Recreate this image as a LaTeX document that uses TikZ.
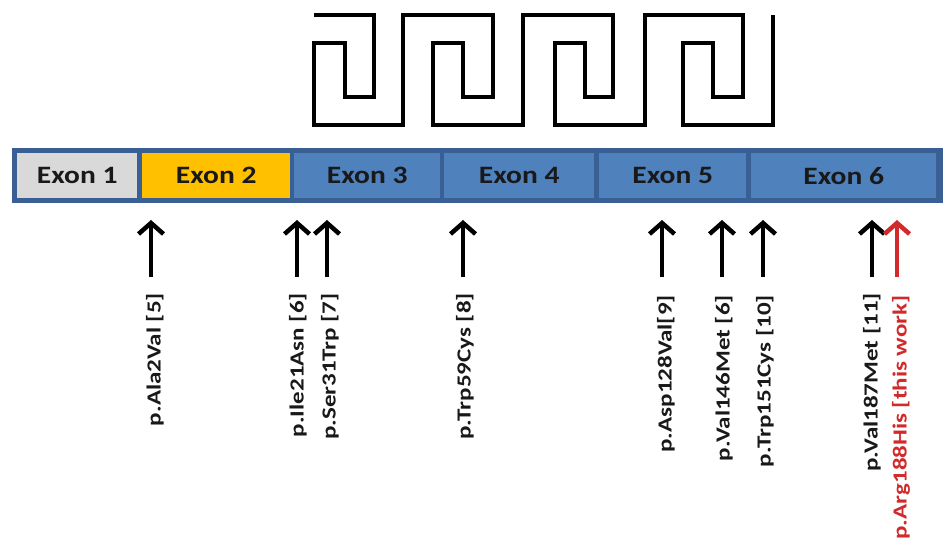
\documentclass[tikz,border=0pt]{standalone}
\usepackage{fontspec}
\setmainfont{Carlito}
\usetikzlibrary{arrows.meta}
\definecolor{exonblue}{HTML}{4F81BD}
\definecolor{bardark}{HTML}{3A5F94}
\definecolor{exongray}{HTML}{D9D9D9}
\definecolor{exonyellow}{HTML}{FFC000}
\definecolor{mutred}{HTML}{D22A2A}
\newcommand{\exonlab}[1]{\scalebox{1.18}[1]{#1}}
\newcommand{\mutlab}[1]{\scalebox{1.25}[1]{#1}}
\begin{document}
\begin{tikzpicture}[x=1pt,y=-1pt]
            \tikzset{exon/.style={rectangle,inner sep=0pt,anchor=north west,
                font=\fontsize{25}{25}\selectfont\bfseries,text=black!90}}
            \tikzset{mutlabel/.style={rotate=90,anchor=east,inner sep=0pt,
                font=\fontsize{20}{20}\selectfont\bfseries,text=black!90}}
            \tikzset{mut/.style={line width=4.5pt,-{Straight Barb[length=11pt,width=25pt]}}}
            \clip (0,0) rectangle (943,540);
            \fill[white] (0,0) rectangle (943,540);
            % greek key
            \draw[line width=4pt,line join=miter] (314,15) -- (374,15) -- (374,97) -- (345,97) -- (345,43)
                -- (314,43) -- (314,125) -- (403,125) -- (403,15) -- (493,15) -- (493,97) -- (463,97)
                -- (463,43) -- (433,43) -- (433,125) -- (523,125) -- (523,15) -- (613,15) -- (613,97)
                -- (585,97) -- (585,43) -- (555,43) -- (555,125) -- (645,125) -- (645,15) -- (743,15)
                -- (743,97) -- (713,97) -- (713,43) -- (683,43) -- (683,125) -- (773,125) -- (773,15);
            % exon bar
            \fill[bardark] (12,148) rectangle (960,203);
            \node[exon,fill=exongray,minimum width=120pt,minimum height=45pt] (e1) at (17,153) {\exonlab{Exon 1}};
            \node[exon,fill=exonyellow,minimum width=148pt,minimum height=45pt] (e2) at (142,153) {\exonlab{Exon 2}};
            \node[exon,fill=exonblue,minimum width=146pt,minimum height=45pt] (e3) at (294,153) {\exonlab{Exon 3}};
            \node[exon,fill=exonblue,minimum width=150pt,minimum height=45pt] (e4) at (444,153) {\exonlab{Exon 4}};
            \node[exon,fill=exonblue,minimum width=147pt,minimum height=45pt] (e5) at (599,153) {\exonlab{Exon 5}};
            \node[exon,fill=exonblue,minimum width=185pt,minimum height=45pt] (e6) at (751,153) {\exonlab{Exon 6}};
            % mutations
            \node[mutlabel] (ala2) at (155,293) {\mutlab{p.Ala2Val [5]}};
            \node[mutlabel] (ile21) at (298,293) {\mutlab{p.Ile21Asn [6]}};
            \node[mutlabel] (ser31) at (330,293) {\mutlab{p.Ser31Trp [7]}};
            \node[mutlabel] (trp59) at (465,293) {\mutlab{p.Trp59Cys [8]}};
            \node[mutlabel] (asp128) at (666,295) {\mutlab{p.Asp128Val[9]}};
            \node[mutlabel] (val146) at (724,295) {\mutlab{p.Val146Met [6]}};
            \node[mutlabel] (trp151) at (765,295) {\mutlab{p.Trp151Cys [10]}};
            \node[mutlabel] (val187) at (872,293) {\mutlab{p.Val187Met [11]}};
            \node[mutlabel,text=mutred] (arg188) at (901,295) {\mutlab{p.Arg188His [this work]}};
            \coordinate (ala2-t) at (151,220);
            \coordinate (ile21-t) at (297,220);
            \coordinate (ser31-t) at (327,220);
            \coordinate (trp59-t) at (463,220);
            \coordinate (asp128-t) at (662,220);
            \coordinate (val146-t) at (722,220);
            \coordinate (trp151-t) at (763,220);
            \coordinate (val187-t) at (872,220);
            \coordinate (arg188-t) at (897,220);
            \draw[mut] (ala2-t |- 0,277) -- (ala2-t);
            \draw[mut] (ile21-t |- 0,277) -- (ile21-t);
            \draw[mut] (ser31-t |- 0,277) -- (ser31-t);
            \draw[mut] (trp59-t |- 0,277) -- (trp59-t);
            \draw[mut] (asp128-t |- 0,277) -- (asp128-t);
            \draw[mut] (val146-t |- 0,277) -- (val146-t);
            \draw[mut] (trp151-t |- 0,277) -- (trp151-t);
            \draw[mut] (val187-t |- 0,277) -- (val187-t);
            \draw[mut,mutred] (arg188-t |- 0,277) -- (arg188-t);
        \end{tikzpicture}
\end{document}
